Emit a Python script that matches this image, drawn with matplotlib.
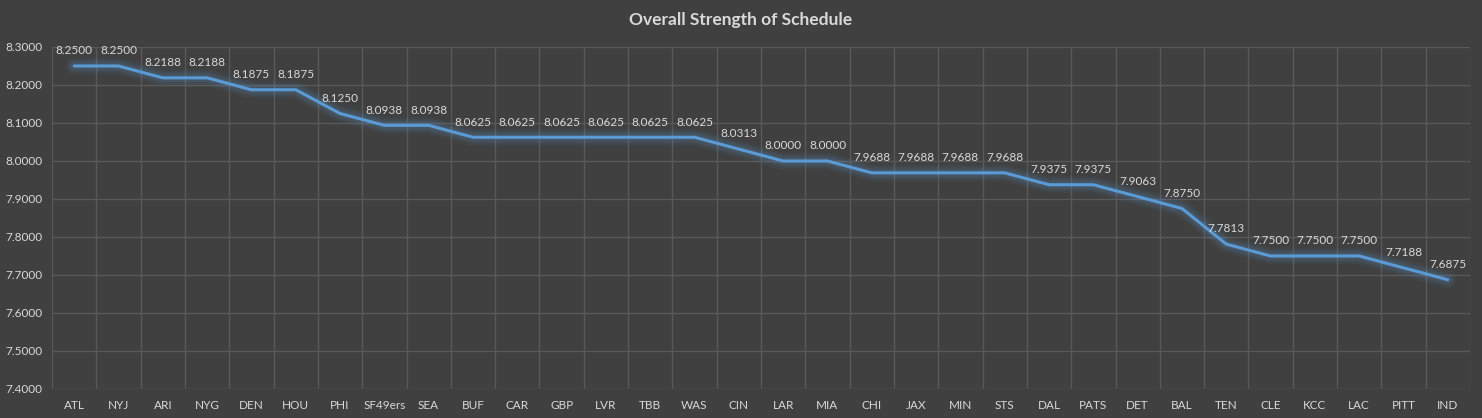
import matplotlib
matplotlib.use("Agg")
import matplotlib.pyplot as plt
import numpy as np

plt.rcParams['font.family'] = ['Lato', 'DejaVu Sans']

teams = ['ATL', 'NYJ', 'ARI', 'NYG', 'DEN', 'HOU', 'PHI', 'SF49ers', 'SEA', 'BUF',
         'CAR', 'GBP', 'LVR', 'TBB', 'WAS', 'CIN', 'LAR', 'MIA', 'CHI', 'JAX',
         'MIN', 'STS', 'DAL', 'PATS', 'DET', 'BAL', 'TEN', 'CLE', 'KCC', 'LAC',
         'PITT', 'IND']
sos = [8.2500, 8.2500, 8.2188, 8.2188, 8.1875, 8.1875, 8.1250, 8.0938, 8.0938, 8.0625,
       8.0625, 8.0625, 8.0625, 8.0625, 8.0625, 8.0313, 8.0000, 8.0000, 7.9688, 7.9688,
       7.9688, 7.9688, 7.9375, 7.9375, 7.9063, 7.8750, 7.7813, 7.7500, 7.7500, 7.7500,
       7.7188, 7.6875]
yticks = [7.4, 7.5, 7.6, 7.7, 7.8, 7.9, 8.0, 8.1, 8.2, 8.3]

bg = '#404040'
grid_col = '#595959'
text_col = '#d9d9d9'
line_col = '#5b9bd5'

fig = plt.figure(figsize=(14.82, 4.18), dpi=100, facecolor=bg)
ax = fig.add_axes([0.0351, 0.0694, 0.9568, 0.8182], facecolor=bg)

x = np.arange(len(teams))

# glow under the line
for lw, a in [(12, 0.06), (9, 0.08), (6, 0.12)]:
    ax.plot(x, sos, color=line_col, lw=lw, alpha=a, solid_capstyle='round', zorder=2)
ax.plot(x, sos, color=line_col, lw=2.2, solid_capstyle='round', zorder=3)

for xi, v in zip(x, sos):
    ax.annotate(f'{v:.4f}', (xi, v), xytext=(0, 7), textcoords='offset points',
                ha='center', va='bottom', color=text_col, fontsize=8.5, zorder=4)

ax.set_xlim(-0.5, len(teams) - 0.5)
ax.set_ylim(7.4, 8.3)
ax.set_yticks(yticks)
ax.set_yticklabels([f'{t:.4f}' for t in yticks])
ax.set_xticks(x)
ax.set_xticklabels(teams)

# gridlines: horizontal at ticks, vertical at category boundaries
for t in yticks:
    ax.axhline(t, color=grid_col, lw=1, zorder=1)
for b in np.arange(len(teams) + 1) - 0.5:
    ax.axvline(b, color=grid_col, lw=1, zorder=1)

for s in ax.spines.values():
    s.set_visible(False)
ax.tick_params(axis='both', length=0, colors=text_col, labelsize=8.5)
ax.tick_params(axis='x', pad=8)
ax.tick_params(axis='y', pad=7)

fig.text(0.5, 0.952, 'Overall Strength of Schedule', ha='center', va='center',
         color=text_col, fontsize=12.5, fontweight='bold')

fig.savefig('out.png', dpi=100, facecolor=bg)
